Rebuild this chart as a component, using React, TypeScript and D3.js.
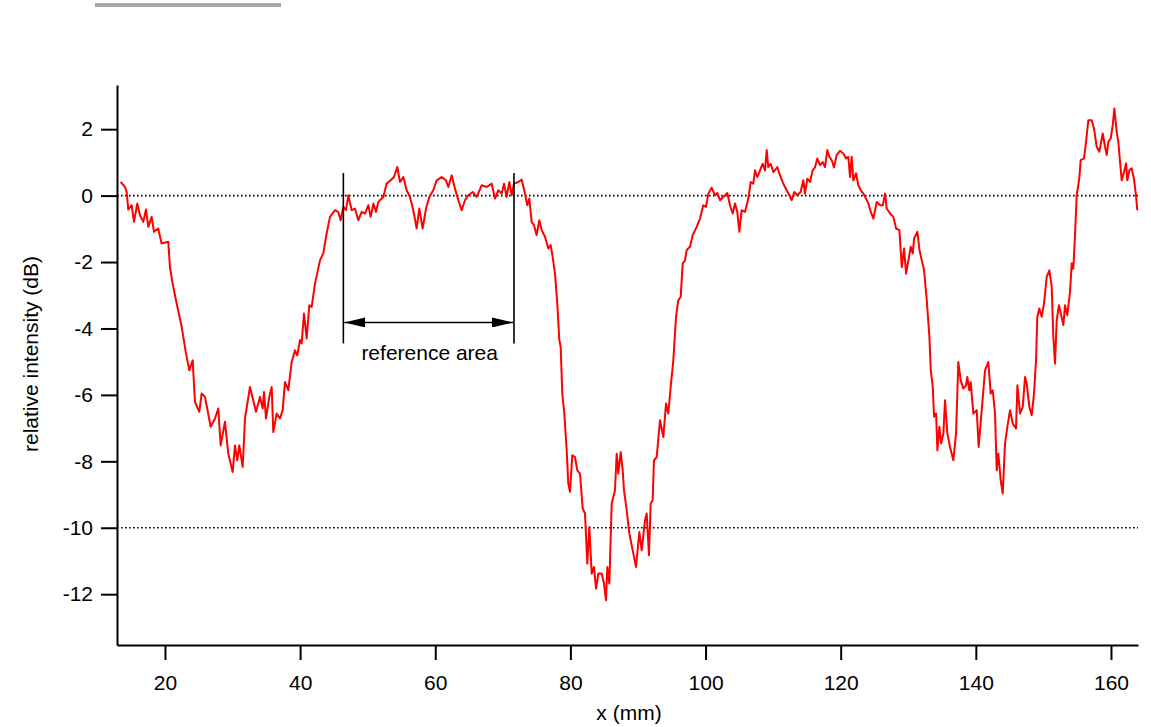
import React, { Component, createRef } from "react";
import * as d3 from "d3";

const positionMm = [
  13.44, 14.08, 14.33, 14.57, 15.07, 15.41, 15.9, 16.3, 16.79, 17.19, 17.53, 18.03, 18.37, 19.0, 19.5,
  20.49, 20.74, 21.13, 21.73, 22.47, 23.11, 23.6, 24.1, 24.44, 25.08, 25.43, 25.92, 26.76, 27.4, 27.89,
  28.24, 28.88, 29.37, 30.02, 30.36, 30.7, 31.0, 31.5, 31.84, 32.58, 33.47, 34.06, 34.46, 34.65, 34.95,
  35.44, 35.79, 36.03, 36.53, 37.02, 37.42, 37.76, 38.25, 38.75, 39.24, 39.58, 39.98, 40.23, 40.57, 40.97,
  41.36, 41.71, 42.2, 42.94, 43.43, 43.83, 44.42, 45.16, 45.65, 46.0, 46.39, 46.79, 47.13, 47.63, 48.12,
  48.62, 49.11, 49.6, 50.1, 50.44, 50.84, 51.23, 51.57, 52.31, 52.8, 53.4, 53.89, 54.38, 54.78, 55.27,
  55.77, 56.26, 56.75, 57.25, 57.64, 58.14, 58.63, 59.12, 59.71, 60.21, 60.95, 61.59, 61.93, 62.43, 62.92,
  63.41, 63.91, 64.4, 64.89, 65.54, 66.13, 66.87, 67.61, 68.35, 68.84, 69.33, 69.83, 70.17, 70.57, 70.96,
  71.31, 71.65, 72.29, 72.79, 73.28, 73.62, 73.92, 74.27, 74.61, 75.0, 75.4, 75.75, 76.24, 76.73, 77.08,
  77.38, 77.72, 78.06, 78.36, 78.56, 78.8, 79.1, 79.45, 79.69, 79.94, 80.28, 80.68, 81.02, 81.42, 81.82,
  82.16, 82.5, 82.8, 83.15, 83.49, 83.79, 84.13, 84.63, 84.97, 85.27, 85.46, 85.76, 86.11, 86.6, 86.85,
  87.09, 87.44, 87.74, 87.93, 88.33, 88.72, 89.22, 89.71, 90.2, 90.55, 91.04, 91.29, 91.63, 91.88, 92.17,
  92.37, 92.77, 93.26, 93.75, 94.15, 94.49, 94.84, 95.23, 95.63, 95.97, 96.32, 96.62, 96.96, 97.21, 97.7,
  98.1, 98.69, 99.18, 99.67, 100.06, 100.41, 100.9, 101.4, 101.74, 102.14, 102.63, 103.22, 103.62, 104.02, 104.36,
  104.7, 105.0, 105.35, 105.84, 106.33, 106.68, 107.07, 107.32, 107.66, 108.06, 108.45, 108.8, 109.05, 109.29, 109.64,
  110.03, 110.62, 111.02, 111.51, 112.01, 112.4, 112.75, 113.13, 113.58, 114.07, 114.47, 114.72, 115.06, 115.46, 115.85,
  116.2, 116.54, 116.94, 117.33, 117.68, 118.02, 118.32, 118.67, 119.01, 119.41, 119.9, 120.39, 120.79, 121.13, 121.38,
  121.63, 121.87, 122.27, 122.61, 122.97, 123.36, 123.75, 124.1, 124.45, 124.84, 125.34, 125.83, 126.23, 126.57, 126.81,
  127.31, 127.8, 128.2, 128.69, 129.04, 129.38, 129.68, 130.02, 130.37, 130.67, 130.86, 131.36, 131.66, 132.0, 132.34,
  132.74, 133.13, 133.33, 133.63, 133.82, 134.12, 134.31, 134.61, 134.86, 135.2, 135.44, 135.79, 136.18, 136.67, 137.07,
  137.41, 137.76, 138.15, 138.55, 138.74, 139.04, 139.24, 139.63, 140.13, 140.42, 140.87, 141.36, 141.85, 142.2, 142.5,
  142.84, 143.09, 143.33, 143.68, 143.98, 144.32, 144.67, 145.06, 145.46, 145.95, 146.15, 146.54, 146.94, 147.28, 147.53,
  147.92, 148.27, 148.61, 148.91, 149.1, 149.4, 149.75, 150.09, 150.49, 150.88, 151.23, 151.47, 151.72, 151.97, 152.31,
  152.95, 153.2, 153.54, 153.94, 154.19, 154.43, 154.68, 154.93, 155.31, 155.52, 156.01, 156.31, 156.65, 157.15, 157.49,
  157.89, 158.28, 158.78, 159.12, 159.37, 159.61, 159.96, 160.26, 160.5, 160.85, 161.09, 161.34, 161.59, 161.93, 162.23,
  162.42, 162.72, 163.06, 163.4, 163.7, 163.89
];

const intensityDb = [
  0.41, 0.26, 0.11, -0.42, -0.29, -0.79, -0.24, -0.59, -0.79, -0.42, -0.94, -0.64, -1.09, -0.99, -1.44,
  -1.39, -2.15, -2.65, -3.25, -3.95, -4.75, -5.26, -4.96, -6.21, -6.51, -5.96, -6.06, -6.96, -6.71, -6.41,
  -7.52, -6.81, -7.77, -8.32, -7.52, -7.97, -7.52, -8.17, -6.71, -5.76, -6.51, -6.06, -6.41, -5.91, -6.71,
  -6.06, -5.76, -7.12, -6.56, -6.71, -6.46, -5.61, -5.86, -5.01, -4.66, -4.81, -4.35, -4.45, -3.55, -4.3,
  -3.3, -3.35, -2.65, -1.95, -1.74, -1.24, -0.64, -0.44, -0.49, -0.74, -0.34, -0.44, 0.01, -0.44, -0.39,
  -0.74, -0.49, -0.54, -0.29, -0.64, -0.24, -0.49, -0.19, -0.04, 0.36, 0.46, 0.56, 0.86, 0.41, 0.56,
  0.16, -0.04, -0.44, -0.99, -0.39, -0.99, -0.39, -0.04, 0.16, 0.46, 0.56, 0.46, 0.26, 0.61, 0.21,
  -0.14, -0.44, -0.14, 0.01, 0.11, -0.04, 0.31, 0.26, 0.36, -0.09, 0.16, 0.06, 0.36, -0.04, 0.41,
  0.01, 0.36, 0.41, 0.48, 0.06, -0.29, -0.09, -0.79, -0.89, -1.19, -0.74, -1.04, -1.24, -1.59, -1.49,
  -1.85, -2.35, -3.25, -4.35, -4.56, -5.96, -6.56, -7.67, -8.67, -8.92, -7.82, -7.87, -8.27, -8.37, -9.42,
  -9.57, -11.08, -9.98, -11.38, -11.18, -11.83, -11.38, -11.38, -11.68, -12.18, -11.18, -11.68, -9.27, -8.87, -7.77,
  -8.37, -7.72, -8.27, -8.87, -9.47, -10.17, -10.68, -11.18, -10.13, -10.68, -9.77, -9.57, -10.83, -9.27, -9.17,
  -7.97, -7.87, -6.76, -7.27, -6.26, -6.56, -5.76, -4.96, -3.65, -3.15, -3.05, -2.04, -1.95, -1.64, -1.54,
  -1.19, -0.94, -0.69, -0.29, -0.34, 0.06, 0.24, 0.01, 0.08, -0.14, -0.04, 0.08, -0.29, -0.54, -0.24,
  -0.49, -1.09, -0.44, -0.49, -0.09, 0.41, 0.36, 0.76, 0.56, 0.76, 0.96, 0.76, 1.37, 0.86, 0.96,
  0.71, 0.86, 0.61, 0.36, 0.16, 0.01, -0.14, 0.11, 0.01, 0.11, 0.46, 0.06, 0.51, 0.41, 0.76,
  0.85, 1.12, 0.92, 1.01, 0.86, 1.37, 1.17, 1.07, 0.85, 1.22, 1.35, 1.27, 1.12, 1.17, 0.56,
  1.17, 0.46, 0.67, 0.31, 0.16, 0.06, -0.09, -0.24, -0.49, -0.69, -0.19, -0.29, -0.29, 0.06, -0.39,
  -0.54, -0.64, -0.99, -1.04, -2.15, -1.59, -2.35, -1.95, -1.54, -1.74, -1.29, -1.09, -1.64, -1.95, -2.25,
  -3.15, -4.25, -5.26, -5.76, -6.66, -6.56, -7.67, -6.96, -7.46, -7.16, -6.16, -7.16, -7.57, -7.97, -7.16,
  -5.01, -5.56, -5.81, -5.71, -5.46, -5.86, -5.61, -6.56, -6.46, -7.57, -6.46, -5.26, -5.01, -5.96, -5.86,
  -6.56, -8.27, -7.77, -8.57, -8.97, -7.46, -6.96, -6.46, -6.86, -7.01, -5.71, -6.56, -6.36, -5.46, -5.66,
  -6.36, -6.61, -5.96, -4.96, -3.65, -3.4, -3.65, -3.25, -2.45, -2.25, -2.75, -4.25, -5.06, -3.75, -3.3,
  -3.9, -3.3, -3.6, -2.9, -2.04, -2.2, -1.19, 0.01, 0.51, 1.07, 1.12, 1.62, 2.27, 2.27, 2.02,
  1.47, 1.32, 1.87, 1.47, 1.22, 1.62, 1.72, 2.12, 2.62, 1.92, 1.62, 1.02, 0.46, 0.71, 0.97,
  0.46, 0.76, 0.82, 0.51, 0.01, -0.44
];

const xTicks = [20, 40, 60, 80, 100, 120, 140, 160];
const yTicks = [-12, -10, -8, -6, -4, -2, 0, 2];
const guideLevels = [0, -10];
const referenceBounds = [46.4, 71.65];

const FONT = "'Liberation Sans', Arial, sans-serif";

class App extends Component {
  svgRef = createRef<SVGSVGElement>();

  componentDidMount() {
    this.drawChart();
  }

  drawChart() {
    const svg = d3.select(this.svgRef.current);
    svg.selectAll("*").remove();

    const x = d3.scaleLinear().domain([12.9, 164]).range([117, 1138]);
    const y = d3.scaleLinear().domain([-13.53, 3.33]).range([645, 85]);

    // stray grey bar at the top
    svg.append("rect")
      .attr("x", 95).attr("y", 3).attr("width", 186).attr("height", 4)
      .attr("fill", "#a8a8a8");

    // dotted guides
    svg.selectAll("line.guide")
      .data(guideLevels)
      .enter()
      .append("line")
      .attr("class", "guide")
      .attr("x1", x.range()[0])
      .attr("x2", x.range()[1])
      .attr("y1", d => y(d))
      .attr("y2", d => y(d))
      .attr("stroke", "#000")
      .attr("stroke-width", 1.6)
      .attr("stroke-dasharray", "1.6,2.4");

    const xAxis = svg.append("g")
      .attr("transform", `translate(0,${y.range()[0]})`)
      .call(d3.axisBottom(x).tickValues(xTicks).tickSize(15).tickSizeOuter(0).tickPadding(15)
        .tickFormat(d => String(d)));

    const yAxis = svg.append("g")
      .attr("transform", `translate(${x.range()[0]},0)`)
      .call(d3.axisLeft(y).tickValues(yTicks).tickSize(16).tickSizeOuter(0).tickPadding(8)
        .tickFormat(d => String(d)));

    [xAxis, yAxis].forEach(g => {
      g.select(".domain").attr("stroke-width", 2);
      g.selectAll(".tick line").attr("stroke-width", 2);
      g.selectAll(".tick text")
        .attr("font-family", FONT)
        .attr("font-size", 21)
        .attr("fill", "#000");
    });

    svg.append("text")
      .attr("x", 629)
      .attr("y", 720)
      .attr("text-anchor", "middle")
      .attr("font-family", FONT)
      .attr("font-size", 21)
      .text("x (mm)");

    svg.append("text")
      .attr("transform", `translate(38,354) rotate(-90)`)
      .attr("text-anchor", "middle")
      .attr("font-family", FONT)
      .attr("font-size", 21)
      .text("relative intensity (dB)");

    // measured profile
    const points = positionMm.map((p, i) => [p, intensityDb[i]] as [number, number]);
    const line = d3.line<[number, number]>()
      .x(d => x(d[0]))
      .y(d => y(d[1]));

    svg.append("path")
      .datum(points)
      .attr("d", line)
      .attr("fill", "none")
      .attr("stroke", "#ff0000")
      .attr("stroke-width", 2)
      .attr("stroke-linejoin", "round");

    // reference area marker
    const defs = svg.append("defs");
    defs.append("marker")
      .attr("id", "head")
      .attr("viewBox", "0 0 21 10")
      .attr("refX", 21)
      .attr("refY", 5)
      .attr("markerWidth", 21)
      .attr("markerHeight", 10)
      .attr("markerUnits", "userSpaceOnUse")
      .attr("orient", "auto-start-reverse")
      .append("path")
      .attr("d", "M0,0 L21,5 L0,10 Z")
      .attr("fill", "#000");

    svg.selectAll("line.bound")
      .data(referenceBounds)
      .enter()
      .append("line")
      .attr("class", "bound")
      .attr("x1", d => x(d))
      .attr("x2", d => x(d))
      .attr("y1", y(0.68))
      .attr("y2", y(-4.45))
      .attr("stroke", "#000")
      .attr("stroke-width", 1.6);

    svg.append("line")
      .attr("x1", x(referenceBounds[0]) + 1)
      .attr("x2", x(referenceBounds[1]) - 1)
      .attr("y1", y(-3.82))
      .attr("y2", y(-3.82))
      .attr("stroke", "#000")
      .attr("stroke-width", 1.6)
      .attr("marker-start", "url(#head)")
      .attr("marker-end", "url(#head)");

    svg.append("text")
      .attr("x", (x(referenceBounds[0]) + x(referenceBounds[1])) / 2 + 1)
      .attr("y", 360)
      .attr("text-anchor", "middle")
      .attr("font-family", FONT)
      .attr("font-size", 21)
      .text("reference area");
  }

  render() {
    return (
      <svg
        ref={this.svgRef}
        width={1151}
        height={727}
        style={{ position: "absolute", left: 0, top: 0, background: "#fff" }}
      />
    );
  }
}

export default App;
